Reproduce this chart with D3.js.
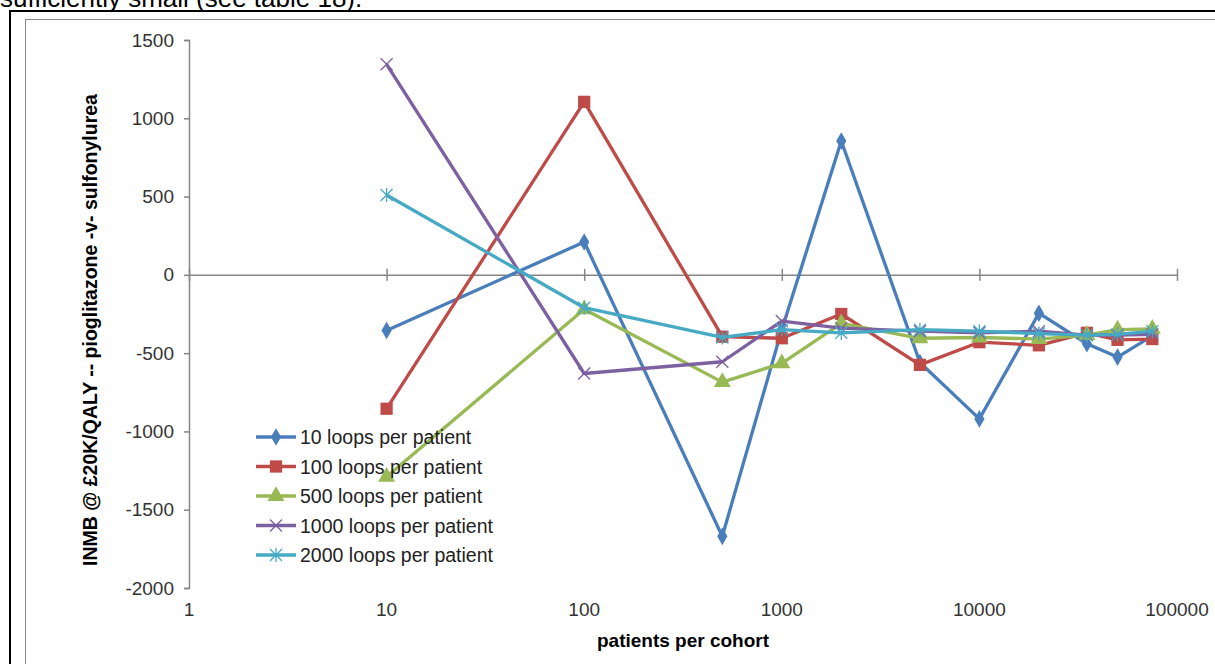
<!DOCTYPE html>
<html>
<head>
<meta charset="utf-8">
<script src="https://cdn.jsdelivr.net/npm/d3@7"></script>
<style>
  body { margin: 0; background: #fff; }
  svg { font-family: "Liberation Sans", Arial, sans-serif; }
</style>
</head>
<body>
<svg id="chart"></svg>
<script>
// cohort sizes (x) and INMB values per loop setting
var cohorts = [10, 100, 500, 1000, 2000, 5000, 10000, 20000, 35000, 50000, 75000];
var loops10   = [-355, 210, -1670, -350, 855, -560, -920, -245, -440, -525, -390];
var loops100  = [-855, 1105, -395, -405, -250, -575, -430, -450, -370, -415, -410];
var loops500  = [-1290, -220, -685, -565, -310, -405, -400, -410, -385, -350, -345];
var loops1000 = [1345, -630, -555, -295, -340, -360, -370, -360, -385, -385, -380];
var loops2000 = [510, -210, -400, -350, -370, -350, -360, -375, -385, -380, -360];
var seriesNames = ["10 loops per patient", "100 loops per patient", "500 loops per patient",
                   "1000 loops per patient", "2000 loops per patient"];
var yTicks = [1500, 1000, 500, 0, -500, -1000, -1500, -2000];
var xTicks = [1, 10, 100, 1000, 10000, 100000];

var colors = ["#4a7ebb", "#be4b48", "#98b954", "#7d60a0", "#46aac5"];
var markers = ["diamond", "square", "triangle", "x", "star"];
var seriesData = [loops10, loops100, loops500, loops1000, loops2000];

var W = 1215, H = 664;
var svg = d3.select("#chart").attr("width", W).attr("height", H);

// cut-off text line above the chart (only its lower part shows)
svg.append("text").attr("x", 0).attr("y", 7)
  .style("font-size", "26px").style("fill", "#000")
  .text("sufficiently small (see table 18).");

// frames
svg.append("rect").attr("x", 10).attr("y", 11).attr("width", 1230).attr("height", 700)
  .attr("fill", "none").attr("stroke", "#000").attr("stroke-width", 2);
svg.append("rect").attr("x", 25.5).attr("y", 19.5).attr("width", 1210).attr("height", 700)
  .attr("fill", "none").attr("stroke", "#888").attr("stroke-width", 1);

var x = d3.scaleLog().domain([1, 100000]).range([189, 1177]);
var y = d3.scaleLinear().domain([-2000, 1500]).range([588, 40]);

// y axis
var yAxis = svg.append("g").attr("transform", "translate(189,0)")
  .call(d3.axisLeft(y).tickValues(yTicks).tickSize(5).tickPadding(10).tickFormat(d3.format("d")));
yAxis.select(".domain").attr("stroke", "#868686").attr("stroke-width", 1.5);
yAxis.selectAll(".tick line").attr("stroke", "#868686").attr("stroke-width", 1.5);
yAxis.selectAll(".tick text").style("font-size", "19px").style("fill", "#333")
  .text(d => d < 0 ? "-" + Math.abs(d) : d);

// x axis line at zero with crossing ticks
var xAxis = svg.append("g").attr("transform", "translate(0," + y(0) + ")")
  .call(d3.axisBottom(x).tickValues(xTicks).tickSize(6).tickSizeOuter(0).tickFormat(""));
xAxis.select(".domain").attr("stroke", "#868686").attr("stroke-width", 1.5);
xAxis.selectAll(".tick line").attr("y1", -6).attr("y2", 6)
  .attr("stroke", "#868686").attr("stroke-width", 1.5);

// x tick labels at the bottom
svg.append("g").selectAll("text").data(xTicks).enter().append("text")
  .attr("x", d => x(d)).attr("y", 616)
  .attr("text-anchor", "middle")
  .style("font-size", "19px").style("fill", "#333")
  .text(d => d);

// axis titles
svg.append("text").attr("x", 683).attr("y", 647).attr("text-anchor", "middle")
  .style("font-size", "19px").style("font-weight", "bold").style("fill", "#000")
  .text("patients per cohort");
svg.append("text").attr("transform", "translate(97,330) rotate(-90)").attr("text-anchor", "middle")
  .style("font-size", "19.5px").style("font-weight", "bold").style("fill", "#000")
  .text("INMB @ \u00a320K/QALY  -- pioglitazone -v- sulfonylurea");

function drawMarker(g, type, color, cx, cy) {
  if (type == "diamond") {
    g.append("path").attr("d", d3.symbol().type(d3.symbolDiamond).size(90)())
      .attr("transform", `translate(${cx},${cy})`).attr("fill", color);
  } else if (type == "square") {
    g.append("path").attr("d", d3.symbol().type(d3.symbolSquare).size(150)())
      .attr("transform", `translate(${cx},${cy})`).attr("fill", color);
  } else if (type == "triangle") {
    g.append("path").attr("d", d3.symbol().type(d3.symbolTriangle).size(125)())
      .attr("transform", `translate(${cx},${cy})`).attr("fill", color);
  } else if (type == "x") {
    g.append("path").attr("d", "M-6,-6L6,6M-6,6L6,-6")
      .attr("transform", `translate(${cx},${cy})`).attr("stroke", color).attr("stroke-width", 1.3);
  } else {
    g.append("path").attr("d", "M-6,-6L6,6M-6,6L6,-6M0,-7L0,7")
      .attr("transform", `translate(${cx},${cy})`).attr("stroke", color).attr("stroke-width", 1.3);
  }
}

var line = d3.line().x(d => x(d[0])).y(d => y(d[1]));

seriesData.forEach(function (vals, i) {
  var pts = cohorts.map((c, j) => [c, vals[j]]);
  var g = svg.append("g");
  g.append("path").datum(pts).attr("d", line)
    .attr("fill", "none").attr("stroke", colors[i]).attr("stroke-width", 3.3)
    .attr("stroke-linejoin", "round");
  pts.forEach(p => drawMarker(g, markers[i], colors[i], x(p[0]), y(p[1])));
});

// legend
var legend = svg.append("g");
seriesNames.forEach(function (name, i) {
  var ly = 437 + i * 29.5;
  legend.append("line").attr("x1", 256).attr("x2", 296).attr("y1", ly).attr("y2", ly)
    .attr("stroke", colors[i]).attr("stroke-width", 3.3);
  drawMarker(legend, markers[i], colors[i], 276, ly);
  legend.append("text").attr("x", 300).attr("y", ly + 7)
    .style("font-size", "19.5px").style("fill", "#222").text(name);
});
</script>
</body>
</html>
